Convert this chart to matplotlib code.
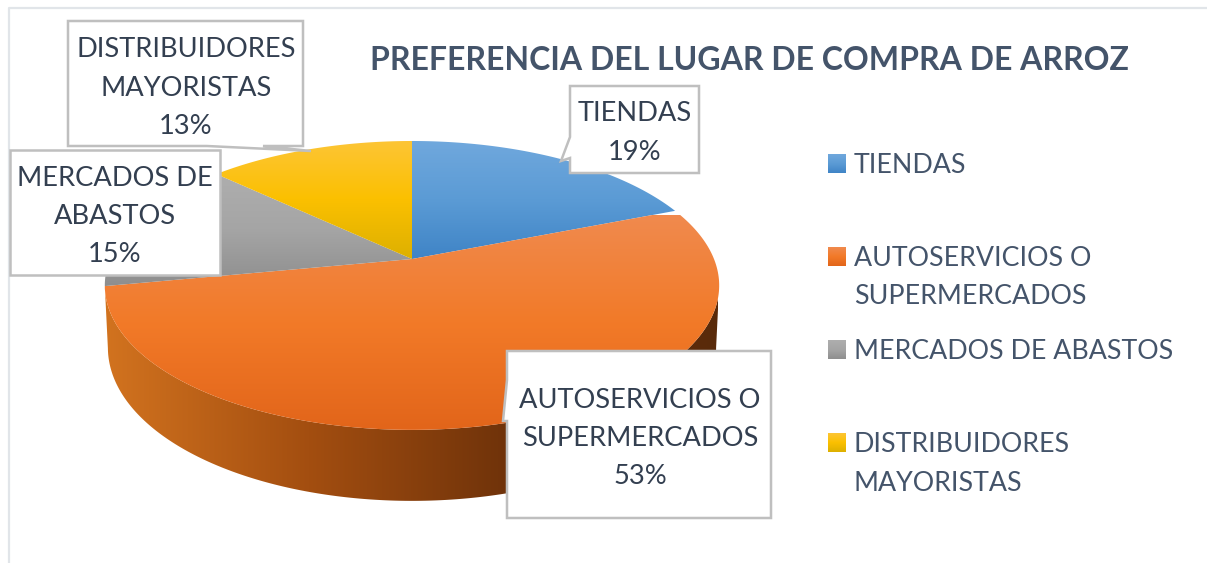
import numpy as np
import matplotlib
matplotlib.use("Agg")
import matplotlib.pyplot as plt
from matplotlib.colors import LinearSegmentedColormap as LSC
from matplotlib.patches import Polygon

title = "PREFERENCIA DEL LUGAR DE COMPRA DE ARROZ"
categories = ["TIENDAS", "AUTOSERVICIOS O\nSUPERMERCADOS", "MERCADOS DE\nABASTOS", "DISTRIBUIDORES\nMAYORISTAS"]
legend_labels = ["TIENDAS", "AUTOSERVICIOS O\nSUPERMERCADOS", "MERCADOS DE ABASTOS", "DISTRIBUIDORES\nMAYORISTAS"]
shares = [19, 53, 15, 13]

ramps = [["#70A8DD", "#5B9BD5", "#3F84C6"],
         ["#F08A4E", "#F27A28", "#E2651A"],
         ["#AEAEAE", "#A5A5A5", "#8E8E8E"],
         ["#FDC536", "#FBC000", "#DDB000"]]
wall_ramp = ["#D2731F", "#A34E10", "#6E320A", "#592A0B"]
LABEL_C, LEGEND_C, BOX_C = "#333F50", "#44546A", "#BFBFBF"

plt.rcParams["font.family"] = ["Lato", "DejaVu Sans"]
W, H = 1207, 563
fig = plt.figure(figsize=(W/100, H/100), dpi=100)
ax = fig.add_axes([0, 0, 1, 1])
ax.set_axis_off()

CX, CY, A, B, K = 412, 259, 302, 139.6, 0.183
def rim(deg):
    t = np.radians(deg)
    d = 1 + K*np.cos(t)
    return CX + A*np.sin(t)/d, CY - B*np.cos(t)/d

def gradient(ramp, ext, clip=None, horizontal=False, z=2):
    cmap = LSC.from_list("r", ramp)
    g = np.linspace(0, 1, 256)
    g = g[None, :] if horizontal else g[:, None]
    im = ax.imshow(g, cmap=cmap, extent=ext, aspect="auto", origin="upper", zorder=z, interpolation="bilinear")
    if clip is not None:
        ax.add_patch(clip)
        clip.set(fc="none", ec="none")
        im.set_clip_path(clip)

# chart frame
ax.plot([9, 9, W], [H, 8, 8], color="#E1E5E9", lw=1.6, zorder=1)

# wall
edges = np.cumsum([0] + shares) * 3.6
th = np.linspace(100.5, edges[2], 200)
xt, yt = rim(th)
xb = CX + (xt - CX)*0.99
yb = yt + 60 + 11*np.clip(-np.cos(np.radians(th)), 0, 1)
wall = np.r_[np.c_[xt, yt], np.c_[xb, yb][::-1]]
gradient(wall_ramp, [104, 718, 510, 280], Polygon(wall), horizontal=True, z=2)

# top face
for i, ramp in enumerate(ramps):
    th = np.linspace(edges[i], edges[i+1], 200)
    x, y = rim(th)
    pts = np.r_[[[CX, CY]], np.c_[x, y]]
    ymin, ymax = (215, 430) if i == 1 else (pts[:, 1].min(), pts[:, 1].max())
    gradient(ramp, [100, 725, ymax, ymin], Polygon(pts), z=3)

# callouts
boxes = [[(570, 86), (699, 86), (699, 173), (570, 173), (570, 158), (561, 161), (570, 137)],
         [(507, 351), (771, 351), (771, 518), (507, 518), (507, 421), (503, 421), (507, 380)],
         [(10, 150), (220, 150), (220, 275), (10, 275)],
         [(68, 21), (303, 21), (303, 146), (263, 146), (311, 151), (207, 146), (68, 146)]]
text_xy = [(634.5, 133), (640, 438.5), (115, 216.5), (186, 88)]
for pts, (tx, ty), c, v in zip(boxes, text_xy, categories, shares):
    ax.add_patch(Polygon(pts, closed=True, fc="white", ec=BOX_C, lw=1.8, zorder=5))
    ax.text(tx, ty, f"{c}\n{v}%", ha="center", va="center", ma="center", fontsize=19.6, color=LABEL_C,
            linespacing=1.66, zorder=6)

ax.text(749.5, 61, title, ha="center", va="center", fontsize=23, fontweight="bold", color=LEGEND_C, zorder=6)

# legend
leg_y = [163.5, 257, 350, 443]
text_y = [165.5, 277.5, 351.5, 464]
for y, ty, lab, ramp in zip(leg_y, text_y, legend_labels, ramps):
    gradient(ramp, [828, 846, y+9.5, y-9.5], z=4)
    ax.text(854, ty, lab, ha="left", va="center", fontsize=19.3, color=LEGEND_C, linespacing=1.67, zorder=6)

ax.set_xlim(0, W)
ax.set_ylim(H, 0)
fig.savefig("out.png", dpi=100, facecolor="white")
